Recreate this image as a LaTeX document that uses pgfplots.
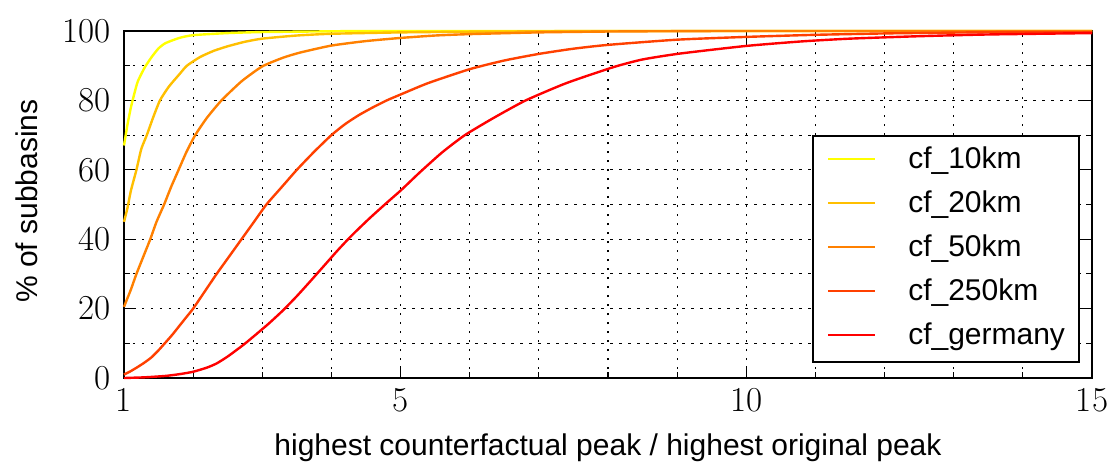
\documentclass[border=0pt]{standalone}
\usepackage{fontspec}
\usepackage{pgfplots}
\pgfplotsset{compat=1.18}
\newfontfamily\hv{Liberation Sans}
\definecolor{c10}{rgb}{1,1,0}
\definecolor{c20}{rgb}{1,0.75,0}
\definecolor{c50}{rgb}{1,0.5,0}
\definecolor{c250}{rgb}{1,0.25,0}
\definecolor{cde}{rgb}{1,0,0}
\begin{document}
\begin{tikzpicture}
\begin{axis}[
  scale only axis,
  width=968pt, height=347pt,
  xmin=1, xmax=15, ymin=0, ymax=100,
  xtick={1,5,10,15},
  minor xtick={2,3,4,6,7,8,9,11,12,13,14},
  ytick={0,20,40,60,80,100},
  minor ytick={10,30,50,70,90},
  grid=both,
  major grid style={black, line width=1.1pt, dash pattern=on 2.5pt off 6.5pt},
  minor grid style={black, line width=1.1pt, dash pattern=on 2.5pt off 6.5pt},
  tick align=inside,
  major tick length=12pt,
  minor tick length=6pt,
  every tick/.style={black, line width=1.1pt},
  axis line style={line width=2.2pt},
  /pgf/number format/assume math mode=true,
  tick label style={font=\rmfamily\fontsize{35}{40}\selectfont},
  xticklabel style={yshift=-7pt},
  yticklabel style={xshift=-10pt},
  xlabel={highest counterfactual peak / highest original peak},
  ylabel={\% of subbasins},
  label style={font=\hv\fontsize{30}{36}\selectfont},
  xlabel style={at={(axis description cs:0.5,-0.222)}, anchor=base},
  ylabel style={at={(axis description cs:-0.100,0.51)}, anchor=center},
  clip=false,
  legend cell align=left,
  legend image code/.code={\draw[#1] (0pt,2pt) -- (47pt,2pt);},
  legend style={at={(axis description cs:0.9876,0.0432)}, anchor=south east,
    font=\hv\fontsize{30}{36}\selectfont, draw=black, line width=2pt,
    nodes={inner sep=0pt, text height=22pt, text depth=7pt},
    row sep=15pt, column sep=32pt, inner xsep=14pt, inner ysep=10.5pt},
  every axis plot/.append style={line width=2.4pt, smooth, tension=0.35},
]
\addplot[c10] coordinates {(1,67) (1.05,73) (1.1,78) (1.15,82) (1.2,85.5) (1.3,89.5) (1.4,92.5) (1.5,95) (1.6,96.5) (1.8,98) (2,98.8) (2.5,99.4) (3,99.7) (4,99.9) (5,100) (15,100)};
\addlegendentry{cf\_10km}
\addplot[c20] coordinates {(1,45) (1.05,49) (1.1,54) (1.18,60) (1.25,66) (1.33,70) (1.42,75) (1.52,80) (1.65,84) (1.8,87.5) (1.91,90) (2.1,92.5) (2.3,94.3) (2.5,95.6) (2.75,96.9) (3,97.8) (3.5,98.7) (4,99.2) (5,99.6) (6,99.8) (7,99.9) (8,100) (15,100)};
\addlegendentry{cf\_20km}
\addplot[c50] coordinates {(1,20.5) (1.05,23) (1.1,25.5) (1.18,30) (1.28,35) (1.38,40) (1.47,45) (1.58,50) (1.68,55) (1.79,60) (1.9,65) (2.03,70) (2.2,75) (2.41,80) (2.7,85.5) (3,89.8) (3.3,92.3) (3.55,93.8) (4,95.8) (4.5,97.1) (5,98) (5.5,98.7) (6,99.1) (7,99.6) (8,99.85) (9,99.95) (10,100) (15,100)};
\addlegendentry{cf\_50km}
\addplot[c250] coordinates {(1,1) (1.1,2) (1.2,3.2) (1.3,4.5) (1.4,6) (1.5,8) (1.59,10) (1.7,12.5) (1.8,15) (1.9,17.5) (2.0,20) (2.17,25) (2.34,30) (2.52,35) (2.70,40) (2.88,45) (3.06,50) (3.28,55) (3.5,60) (3.75,65.2) (4.0,70) (4.2,73.2) (4.4,75.8) (4.6,78) (4.8,80) (5,81.7) (5.4,85) (6,89) (6.5,91.5) (7,93.4) (7.5,94.9) (8,96) (9,97.5) (10,98.3) (11,98.9) (12,99.3) (13,99.55) (14,99.7) (15,99.6)};
\addlegendentry{cf\_250km}
\addplot[cde] coordinates {(1,0) (1.3,0.2) (1.6,0.6) (1.8,1.1) (2,1.8) (2.2,3) (2.34,4.2) (2.5,6.2) (2.73,9.6) (2.9,12.4) (3.1,15.8) (3.3,19.5) (3.5,23.6) (3.7,28) (3.9,32.5) (4.1,37) (4.3,41.2) (4.55,46) (4.8,50.5) (5.0,54) (5.28,59.3) (5.6,65) (5.93,70) (6.35,75) (6.81,80) (7.4,85) (8.08,89.6) (8.5,91.8) (9.04,93.5) (10,95.7) (10.8,97) (11.5,97.8) (12.5,98.5) (13.5,99) (15,99.4)};
\addlegendentry{cf\_germany}
\end{axis}
\pgfresetboundingbox
\useasboundingbox ([xshift=-124pt,yshift=31pt]current axis.north west) rectangle ([xshift=18pt,yshift=-86pt]current axis.south east);
\end{tikzpicture}
\end{document}
